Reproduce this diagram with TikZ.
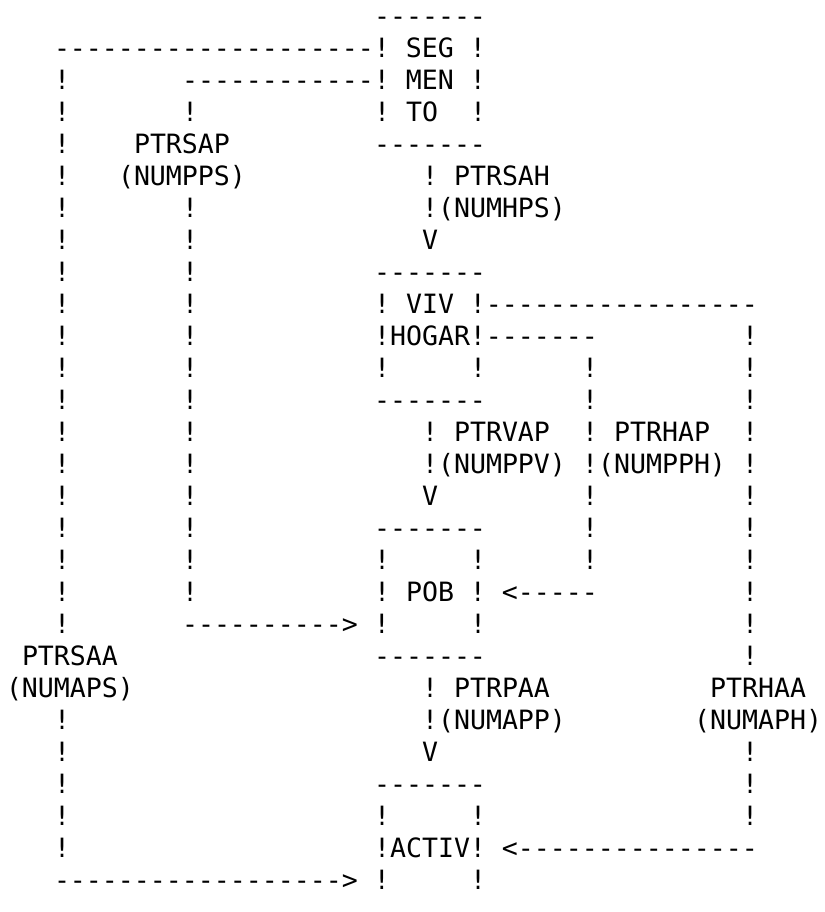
\documentclass[tikz,border=0pt]{standalone}
\usepackage{fontspec}
\setmonofont{DejaVu Sans Mono}
\tikzset{
  ch/.style={anchor=base west, inner sep=0pt, outer sep=0pt,
    font=\ttfamily\fontsize{26.576pt}{32pt}\selectfont, text=black}
}
% #1 name, #2 column, #3 row, #4 text
\newcommand\cellat[4]{\node[ch] (#1) at ({16*(#2)-10},{32*(#3)+25.7}) {#4};}
\begin{document}
\begin{tikzpicture}[x=1pt,y=-1pt]
\fill[white] (0,0) rectangle (824,912);
\useasboundingbox (0,0) rectangle (824,912);
% left guide column (col 4)
\foreach \r in {2,...,19,22,23,24,25,26} {\cellat{L\r}{4}{\r}{!}}
% second column (col 12)
\foreach \r in {3,6,7,...,18} {\cellat{M\r}{12}{\r}{!}}
% middle-right column (col 37)
\foreach \r in {11,12,15,16,17} {\cellat{H\r}{37}{\r}{!}}
% right column (col 47)
\foreach \r in {10,11,...,20,23,24,25} {\cellat{R\r}{47}{\r}{!}}
% row 0-4 : SEGMENTO box
\cellat{segtop}{24}{0}{-------}
\cellat{seg}{4}{1}{--------------------! SEG !}
\cellat{men}{12}{2}{------------! MEN !}
\cellat{to}{24}{3}{! TO}
\cellat{toR}{30}{3}{!}
\cellat{ptrsap}{9}{4}{PTRSAP}
\cellat{segbot}{24}{4}{-------}
\cellat{numpps}{8}{5}{(NUMPPS)}
\cellat{ptrsah}{27}{5}{! PTRSAH}
\cellat{numhps}{27}{6}{!(NUMHPS)}
\cellat{v1}{27}{7}{V}
% VIV HOGAR box
\cellat{vivtop}{24}{8}{-------}
\cellat{viv}{24}{9}{! VIV !-----------------}
\cellat{hogar}{24}{10}{!HOGAR!-------}
\cellat{vivL}{24}{11}{!}
\cellat{vivR}{30}{11}{!}
\cellat{vivbot}{24}{12}{-------}
\cellat{ptrvap}{27}{13}{! PTRVAP}
\cellat{ptrhap}{37}{13}{! PTRHAP}
\cellat{numppv}{27}{14}{!(NUMPPV)}
\cellat{numpph}{37}{14}{!(NUMPPH)}
\cellat{v2}{27}{15}{V}
% POB box
\cellat{pobtop}{24}{16}{-------}
\cellat{pobL}{24}{17}{!}
\cellat{pobR}{30}{17}{!}
\cellat{pob}{24}{18}{! POB ! <-----}
\cellat{arrpob}{12}{19}{----------> !}
\cellat{pobR2}{30}{19}{!}
\cellat{ptrsaa}{2}{20}{PTRSAA}
\cellat{pobbot}{24}{20}{-------}
\cellat{numaps}{1}{21}{(NUMAPS)}
\cellat{ptrpaa}{27}{21}{! PTRPAA}
\cellat{ptrhaa}{45}{21}{PTRHAA}
\cellat{numapp}{27}{22}{!(NUMAPP)}
\cellat{numaph}{44}{22}{(NUMAPH)}
\cellat{v3}{27}{23}{V}
% ACTIV box
\cellat{acttop}{24}{24}{-------}
\cellat{actL}{24}{25}{!}
\cellat{actR}{30}{25}{!}
\cellat{activ}{24}{26}{!ACTIV! <---------------}
\cellat{arract}{4}{27}{------------------> !}
\cellat{actR2}{30}{27}{!}
\end{tikzpicture}
\end{document}
